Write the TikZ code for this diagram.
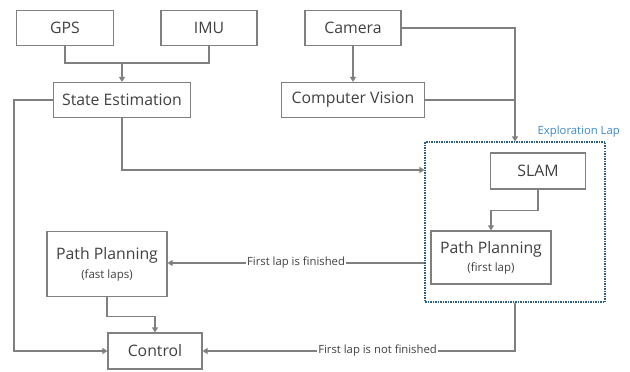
\documentclass[tikz,border=0pt]{standalone}
\usepackage{fontspec}
\setmainfont{Open Sans}
\usepackage{tikz}
\usetikzlibrary{arrows.meta}

\definecolor{linegray}{HTML}{808080}
\definecolor{textgray}{HTML}{404040}
\definecolor{lapblue}{HTML}{3A88CF}
\definecolor{lapframe}{HTML}{2B5E85}

\newcommand{\subtxt}[1]{{\fontsize{11.5}{13}\selectfont #1}}

\tikzset{
    block/.style={draw=linegray, line width=1.2pt, text=textgray, inner sep=0pt,
        align=center, font=\fontsize{15.8}{18}\selectfont},
    flow/.style={draw=linegray, line width=1.2pt, -{Triangle[length=5pt,width=6pt]}},
    wire/.style={draw=linegray, line width=1.2pt},
    cond/.style={fill=white, text=textgray, inner sep=1pt, font=\fontsize{11.3}{13}\selectfont}
}

\begin{document}
\begin{tikzpicture}[x=1pt, y=-1pt]
    \useasboundingbox (0,0) rectangle (630,372);
    % sensors
    \node[block, minimum width=97pt, minimum height=35pt] (gps) at (65,28) {GPS};
    \node[block, minimum width=96pt, minimum height=35pt] (imu) at (209,28) {IMU};
    \node[block, minimum width=96pt, minimum height=35pt] (cam) at (353,28) {Camera};
    \node[block, minimum width=137pt, minimum height=35pt] (est) at (122,100) {State Estimation};
    \node[block, minimum width=143pt, minimum height=35pt] (cv) at (353,100) {Computer Vision};
    % exploration lap
    \node[draw=lapframe, line width=1.1pt, dash pattern=on 1.5pt off 1pt,
        minimum width=180pt, minimum height=160pt, inner sep=0pt] (expl) at (515,222) {};
    \node[text=lapblue, anchor=south east, inner sep=0pt,
        font=\fontsize{11.3}{13}\selectfont] (expllbl) at (620,137) {Exploration Lap};
    \node[block, minimum width=95pt, minimum height=36pt] (slam) at (538,171) {SLAM};
    \node[block, minimum width=120pt, minimum height=53pt] (ppfirst) at (491,257.5)
        {Path Planning\\[0pt]\subtxt{(first lap)}};
    % fast laps
    \node[block, minimum width=120pt, minimum height=65pt] (ppfast) at (107,264)
        {Path Planning\\[1pt]\subtxt{(fast laps)}};
    \node[block, minimum width=94pt, minimum height=36pt] (ctrl) at (155,351) {Control};

    \coordinate (merge) at (122,63);
    \draw[wire] (gps.south) |- (merge) -| (imu.south);
    \draw[flow] (merge) -- (est.north);
    \draw[flow] (cam) -- (cv);
    \draw[flow] (cam.east) -| (expl.north);
    \draw[wire] (cv.east) -- (expl.north |- cv.east);
    \draw[flow] (est.south) |- (expl.west |- 0,170);
    \draw[flow] (est.west) -- ++(-39,0) |- (ctrl.west);
    \draw[flow] (slam.south) -- ++(0,21) -| (ppfirst.north);
    \draw[flow] (expl.west |- 0,263) -- node[cond] {First lap is finished} (ppfast.east |- 0,263);
    \draw[flow] (expl.south) |- node[cond, pos=0.72] {First lap is not finished} (ctrl.east);
    \draw[flow] (ppfast.south) -- ++(0,19) -| (ctrl.north);
\end{tikzpicture}
\end{document}
